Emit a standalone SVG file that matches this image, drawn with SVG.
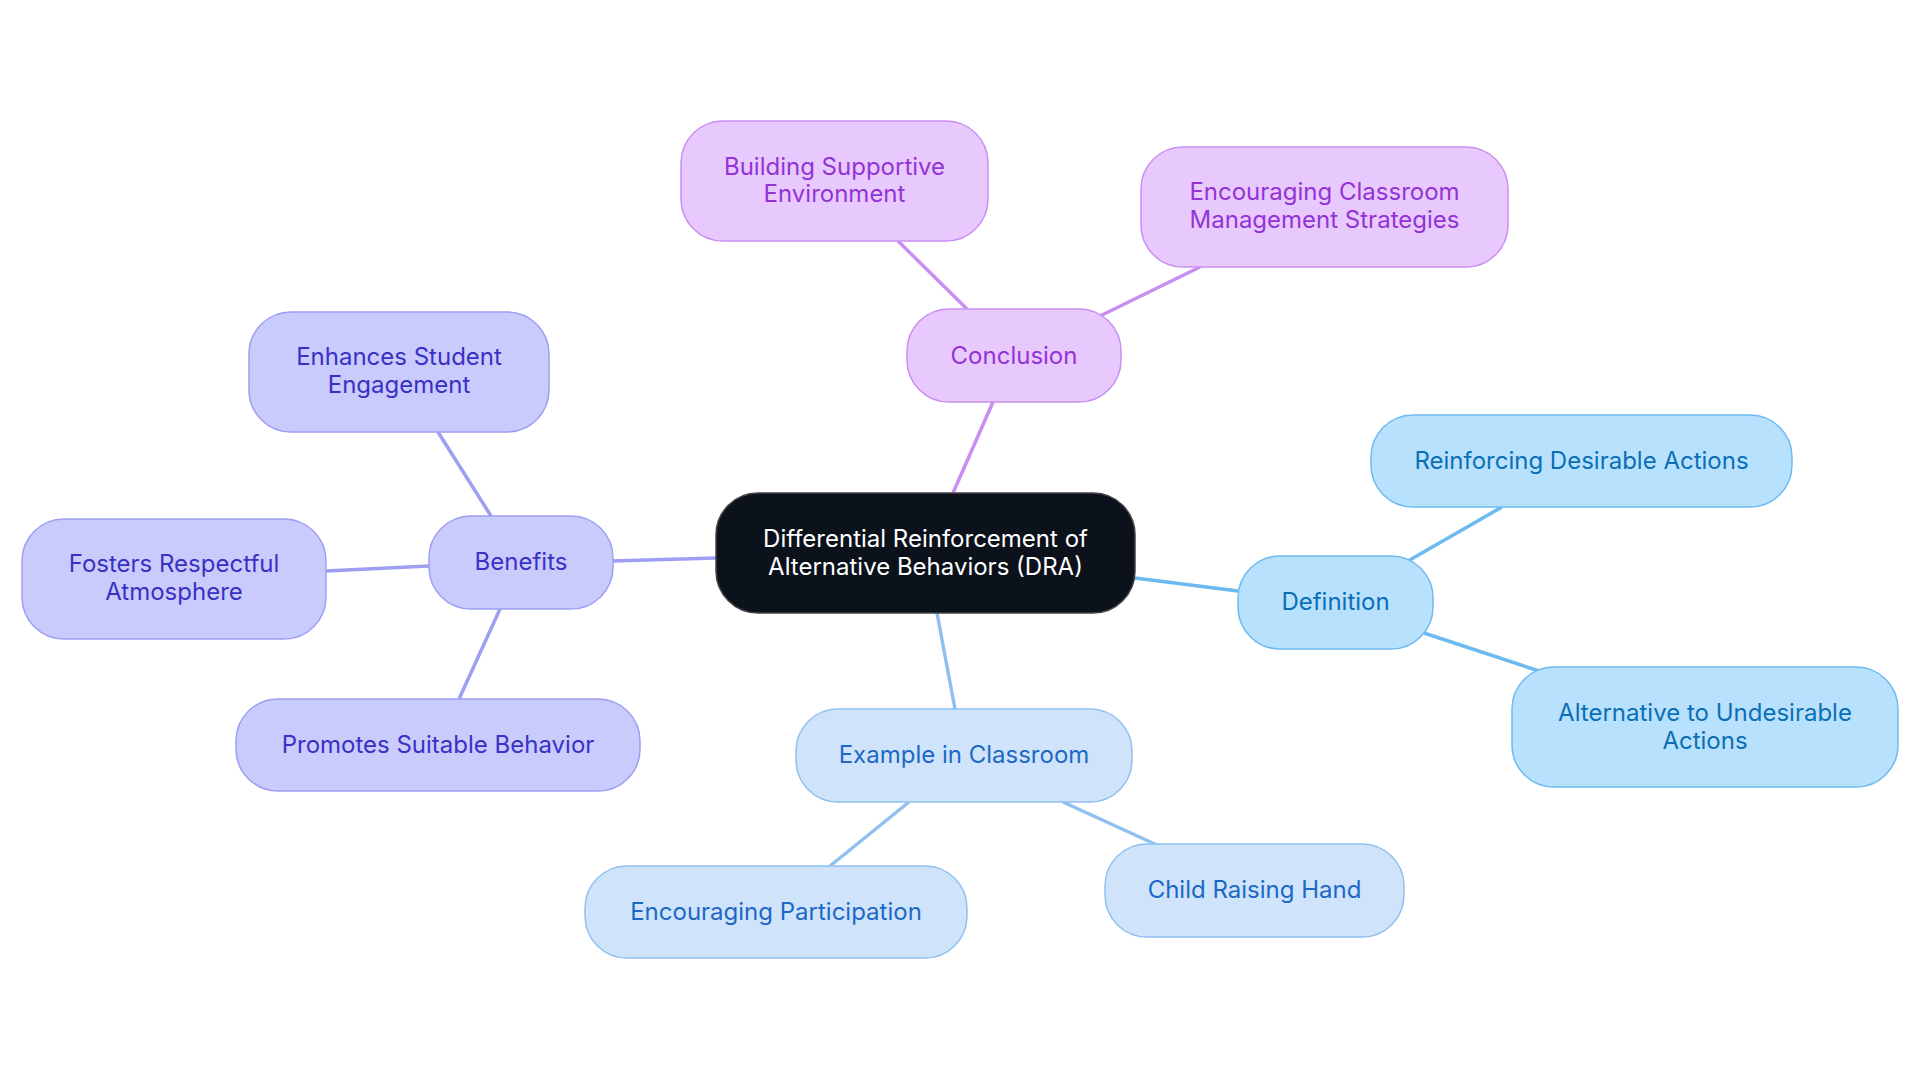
<svg xmlns="http://www.w3.org/2000/svg" width="1920" height="1083" viewBox="0 0 1920 1083">
<style>
text{font-family:Inter,"Noto Sans",sans-serif;font-size:24px;text-anchor:middle}
.p rect{fill:#e8c9fd;stroke:#c98ef2;stroke-width:1.5}.p text{fill:#9333d6}
.i rect{fill:#c9cbfd;stroke:#9e9ef2;stroke-width:1.5}.i text{fill:#3a30c4}
.b rect{fill:#b8e1fd;stroke:#6dbaf0;stroke-width:1.5}.b text{fill:#0b6fb5}
.e rect{fill:#cfe4fb;stroke:#90c0f0;stroke-width:1.5}.e text{fill:#1d68c6}
#edges line{stroke-width:3.5;fill:none}
</style>
<rect width="1920" height="1083" fill="#fff"/>
<g id="edges">
<line x1="953" y1="493" x2="993" y2="402" stroke="#c98ef2"/>
<line x1="967" y1="309" x2="898" y2="241" stroke="#c98ef2"/>
<line x1="1100" y1="316" x2="1200" y2="267" stroke="#c98ef2"/>
<line x1="716" y1="558" x2="612" y2="561" stroke="#9e9ef2"/>
<line x1="491" y1="516" x2="438" y2="432" stroke="#9e9ef2"/>
<line x1="429" y1="566" x2="326" y2="571" stroke="#9e9ef2"/>
<line x1="500" y1="609" x2="459" y2="699" stroke="#9e9ef2"/>
<line x1="1135" y1="578" x2="1238" y2="591" stroke="#6dbaf0"/>
<line x1="1408" y1="561" x2="1502" y2="507" stroke="#6dbaf0"/>
<line x1="1424" y1="633" x2="1539" y2="671" stroke="#6dbaf0"/>
<line x1="937" y1="613" x2="955" y2="709" stroke="#90c0f0"/>
<line x1="909" y1="802" x2="830" y2="866" stroke="#90c0f0"/>
<line x1="1063" y1="802" x2="1157" y2="845" stroke="#90c0f0"/>
</g>
<g id="center"><rect x="716" y="493" width="419" height="120" rx="42" fill="#0c121b" stroke="#444" stroke-width="1.5"/><text x="925.5" y="547" fill="#fff">Differential Reinforcement of</text><text x="925.5" y="575" fill="#fff">Alternative Behaviors (DRA)</text></g>
<g id="conclusion" class="p"><rect x="907" y="309" width="214" height="93" rx="42"/><text x="1014" y="364">Conclusion</text></g>
<g id="building" class="p"><rect x="681" y="121" width="307" height="120" rx="42"/><text x="834.5" y="175">Building Supportive</text><text x="834.5" y="202">Environment</text></g>
<g id="encouraging-cms" class="p"><rect x="1141" y="147" width="367" height="120" rx="42"/><text x="1324.5" y="200">Encouraging Classroom</text><text x="1324.5" y="228">Management Strategies</text></g>
<g id="benefits" class="i"><rect x="429" y="516" width="184" height="93" rx="42"/><text x="521" y="570">Benefits</text></g>
<g id="enhances" class="i"><rect x="249" y="312" width="300" height="120" rx="42"/><text x="399" y="365">Enhances Student</text><text x="399" y="393">Engagement</text></g>
<g id="fosters" class="i"><rect x="22" y="519" width="304" height="120" rx="42"/><text x="174" y="572">Fosters Respectful</text><text x="174" y="600">Atmosphere</text></g>
<g id="promotes" class="i"><rect x="236" y="699" width="404" height="92" rx="42"/><text x="438" y="753">Promotes Suitable Behavior</text></g>
<g id="definition" class="b"><rect x="1238" y="556" width="195" height="93" rx="42"/><text x="1335.5" y="610">Definition</text></g>
<g id="reinforcing" class="b"><rect x="1371" y="415" width="421" height="92" rx="42"/><text x="1581.5" y="469">Reinforcing Desirable Actions</text></g>
<g id="alternative" class="b"><rect x="1512" y="667" width="386" height="120" rx="42"/><text x="1705" y="721">Alternative to Undesirable</text><text x="1705" y="749">Actions</text></g>
<g id="example" class="e"><rect x="796" y="709" width="336" height="93" rx="42"/><text x="964" y="763">Example in Classroom</text></g>
<g id="participation" class="e"><rect x="585" y="866" width="382" height="92" rx="42"/><text x="776" y="920">Encouraging Participation</text></g>
<g id="child" class="e"><rect x="1105" y="844" width="299" height="93" rx="42"/><text x="1254.5" y="898">Child Raising Hand</text></g>
</svg>
